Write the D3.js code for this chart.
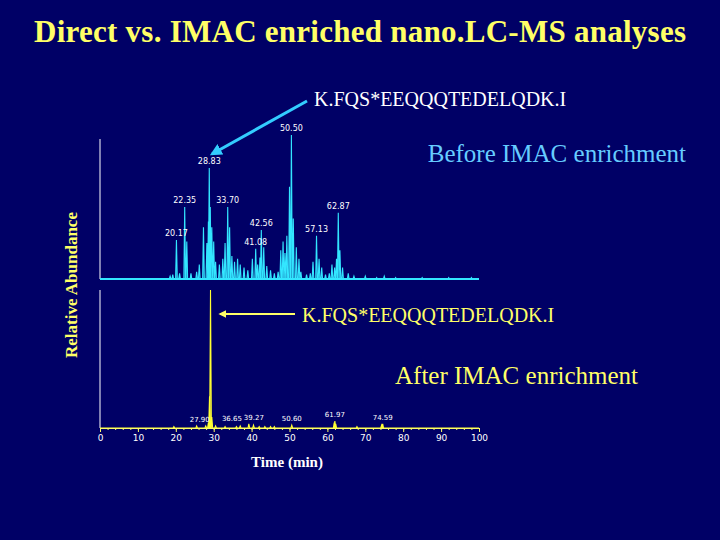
<!DOCTYPE html><html><head><meta charset="utf-8"><script src="https://cdn.jsdelivr.net/npm/d3@7"></script>
<style>body{margin:0;background:#000066}</style></head><body><svg id="c" width="720" height="540"></svg>
<script>
// Before enrichment: retention time (min), relative abundance (%)
const topTimes=[18.5,19.2,20.17,21.0,22.35,22.9,24.0,25.5,26.2,27.3,28.2,28.6,28.83,29.1,29.5,30.0,30.5,31.5,32.4,33.0,33.70,34.2,34.8,35.5,36.3,37.0,38.0,39.0,40.2,41.08,41.6,42.2,42.56,43.2,44.0,45.0,46.0,47.0,47.7,48.3,48.8,49.3,50.0,50.50,51.0,51.8,52.5,53.0,54.5,55.5,56.2,57.13,57.8,58.5,59.5,60.5,61.2,61.9,62.4,62.87,63.3,64.0,65.5,67.0,70.0,73.0,75.0,78.0,85.0,92.0,98.0];
const topVals=[2,3,27,4,50,26,4,5,10,36,25,40,77,50,36,26,12,10,14,25,50,36,16,12,14,10,8,6,14,21,10,15,34,22,9,6,4,5,20,26,18,30,64,100,42,22,14,5,3,4,12,30,14,8,3,4,10,8,14,46,20,8,4,2,2,1,2,1,1,1,1];
const topLabels=[[20.17,"20.17"],[22.35,"22.35"],[28.83,"28.83"],[33.70,"33.70"],[41.08,"41.08"],[42.56,"42.56"],[50.50,"50.50"],[57.13,"57.13"],[62.87,"62.87"]];
// After IMAC enrichment
const botTimes=[19.5,25.5,27.9,28.6,28.9,29.16,29.5,30.5,33.0,36.0,37.0,39.27,40.5,42.0,43.5,45.0,46.0,50.60,61.8,61.97,62.2,67.8,74.3,74.59];
const botVals=[1,1.5,1.5,4,23,100,8,1.5,1,1,1.5,3,2,1,1,1,1,2,4,5,3,1,2,3];
const botLabels=[[27.90,"27.90"],[36.65,"36.65"],[39.27,"39.27"],[50.60,"50.60"],[61.97,"61.97"],[74.59,"74.59"]];
const xTicks=[0,10,20,30,40,50,60,70,80,90,100];

const svg=d3.select("#c");
svg.append("rect").attr("width",720).attr("height",540).attr("fill","#000066");
const x=d3.scaleLinear().domain([0,100]).range([100,479]);
const yT=d3.scaleLinear().domain([0,100]).range([279,135]);
const yB=d3.scaleLinear().domain([0,100]).range([428,290]);
const serif="Liberation Serif, Times New Roman, serif";
svg.append("text").attr("x",360).attr("y",42).attr("text-anchor","middle").attr("fill","#ffff66").attr("font-family",serif).attr("font-weight","bold").attr("font-size",31).attr("textLength",652).text("Direct vs. IMAC enriched nano.LC-MS analyses");

function trace(times,vals,y,col){
  const pts=[[0,0]];
  times.forEach((t,i)=>{pts.push([t-0.22,0],[t,vals[i]],[t+0.22,0]);});
  pts.push([100,0]);
  svg.append("path").attr("d",d3.line().x(d=>x(d[0])).y(d=>y(d[1]))(pts)).attr("fill",col).attr("fill-opacity",0.5).attr("stroke",col).attr("stroke-width",1.1);
}
function labels(arr,times,vals,y,dx,fs){
  arr.forEach(([t,s])=>{
    let i=times.indexOf(t);let v=i>=0?vals[i]:2;
    svg.append("text").attr("x",x(t)+((dx&&dx[s])||0)).attr("y",y(v)-4).attr("text-anchor","middle").attr("fill","white").attr("font-family","DejaVu Sans").attr("font-size",fs||8).text(s);
  });
}
// top
svg.append("line").attr("x1",100).attr("x2",100).attr("y1",139).attr("y2",279).attr("stroke","white");
trace(topTimes,topVals,yT,"#33e6ff");
svg.append("line").attr("x1",100).attr("x2",479).attr("y1",279).attr("y2",279).attr("stroke","#33e6ff").attr("stroke-width",2);
labels(topLabels,topTimes,topVals,yT);
// bottom
svg.append("line").attr("x1",100).attr("x2",100).attr("y1",290).attr("y2",428).attr("stroke","white");
trace(botTimes,botVals,yB,"#ffff33");
const ax=svg.append("g").attr("transform","translate(0,428)").call(d3.axisBottom(x).tickValues(xTicks).tickSize(4));
ax.selectAll("path,line").attr("stroke","#ffff66");
ax.selectAll("text").attr("fill","white").attr("font-family","DejaVu Sans").attr("font-size",9);
svg.append("g").attr("transform","translate(0,428)").call(d3.axisBottom(x).ticks(50).tickSize(2).tickFormat("")).selectAll("path,line").attr("stroke","#ffff66");
labels(botLabels,botTimes,botVals,yB,{"27.90":-6,"36.65":-7,"39.27":5},7);

svg.append("text").attr("x",287).attr("y",467).attr("text-anchor","middle").attr("fill","white").attr("font-family",serif).attr("font-weight","bold").attr("font-size",15).text("Time (min)");
svg.append("text").attr("transform","translate(77,285) rotate(-90)").attr("text-anchor","middle").attr("fill","#ffff66").attr("font-family",serif).attr("font-weight","bold").attr("font-size",17).text("Relative Abundance");
// annotations
svg.append("defs").html('<marker id="ac" viewBox="0 0 10 10" refX="8" refY="5" markerWidth="4" markerHeight="4" orient="auto"><path d="M0,0L10,5L0,10z" fill="#33ccff"/></marker><marker id="ay" viewBox="0 0 10 10" refX="8" refY="5" markerWidth="4" markerHeight="4" orient="auto"><path d="M0,0L10,5L0,10z" fill="#ffff66"/></marker>');
svg.append("line").attr("x1",307).attr("y1",101).attr("x2",212).attr("y2",154).attr("stroke","#33ccff").attr("stroke-width",3).attr("marker-end","url(#ac)");
svg.append("text").attr("x",314).attr("y",106).attr("fill","white").attr("font-family",serif).attr("font-size",20).text("K.FQS*EEQQQTEDELQDK.I");
svg.append("text").attr("x",686).attr("y",162).attr("text-anchor","end").attr("fill","#66ccff").attr("font-family",serif).attr("font-size",25).text("Before IMAC enrichment");
svg.append("line").attr("x1",295).attr("y1",314).attr("x2",220).attr("y2",314).attr("stroke","#ffff66").attr("stroke-width",2).attr("marker-end","url(#ay)");
svg.append("text").attr("x",302).attr("y",322).attr("fill","#ffff66").attr("font-family",serif).attr("font-size",20).text("K.FQS*EEQQQTEDELQDK.I");
svg.append("text").attr("x",638).attr("y",384).attr("text-anchor","end").attr("fill","#ffff66").attr("font-family",serif).attr("font-size",25).text("After IMAC enrichment");
</script></body></html>
